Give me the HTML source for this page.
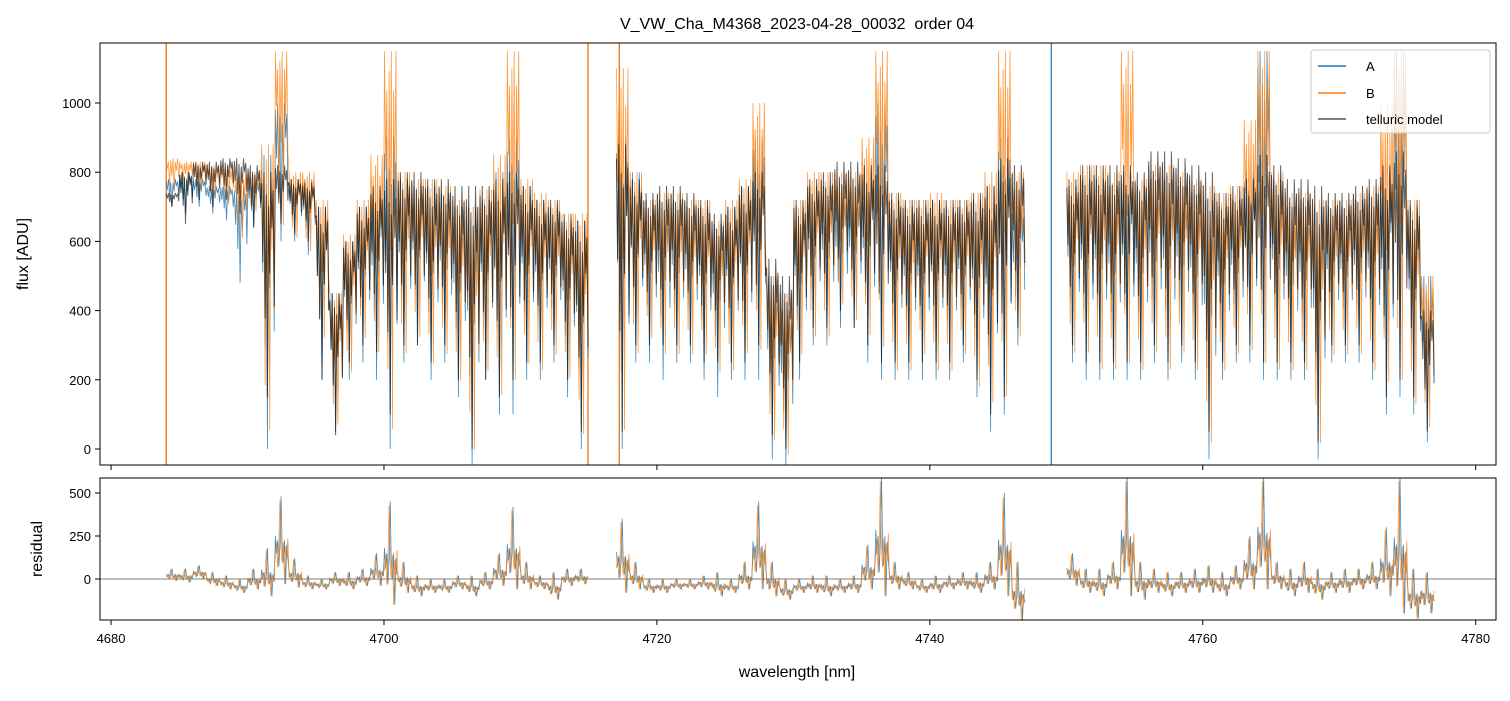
<!DOCTYPE html>
<html><head><meta charset="utf-8">
<style>
body{margin:0;background:#fff;}
svg{font-family:"Liberation Sans","DejaVu Sans",sans-serif;}
</style></head>
<body>
<svg id="chart" width="1510" height="696">
<text x="797" y="29" text-anchor="middle" font-size="16" style="white-space:pre">V_VW_Cha_M4368_2023-04-28_00032  order 04</text>
<defs>
<clipPath id="ctop"><rect x="100" y="43" width="1396" height="422"/></clipPath>
<clipPath id="cbot"><rect x="100" y="478" width="1396" height="142"/></clipPath>
</defs>
<g id="gtop" clip-path="url(#ctop)"></g>
<g id="gbot" clip-path="url(#cbot)"></g>
<g id="gaxes"></g>
<text x="797" y="677" text-anchor="middle" font-size="16">wavelength [nm]</text>
<text transform="translate(28,254) rotate(-90)" text-anchor="middle" font-size="16">flux [ADU]</text>
<text transform="translate(42,549) rotate(-90)" text-anchor="middle" font-size="16">residual</text>
<g>
<rect x="1311" y="50" width="179" height="83" fill="#fff" fill-opacity="0.8" stroke="#ccc" rx="3"/>
<line x1="1318" y1="66" x2="1346" y2="66" stroke="#1f77b4" stroke-width="1.5"/>
<text x="1366" y="71" font-size="13">A</text>
<line x1="1318" y1="93" x2="1346" y2="93" stroke="#ff7f0e" stroke-width="1.5"/>
<text x="1366" y="98" font-size="13">B</text>
<line x1="1318" y1="119" x2="1346" y2="119" stroke="#555" stroke-width="1.5"/>
<text x="1366" y="124" font-size="13">telluric model</text>
</g>
</svg>
<script>
const wStart = 4684;
const aHi=[780,800,780,760,760,760,780,850,1000,780,780,700,450,600,700,750,900,780,760,760,740,700,700,720,800,900,760,720,700,660,660,null,null,900,800,720,720,720,700,700,650,700,760,900,500,400,700,760,760,740,740,800,1000,720,700,700,720,700,700,720,760,900,700,null,null,null,760,780,780,760,800,760,780,780,760,740,720,700,720,800,1150,780,700,720,700,700,700,720,740,800,1150,700,500];
const aLo=[700,680,700,680,660,480,640,0,600,600,560,200,50,200,250,200,0,250,300,200,250,150,-50,200,100,100,200,200,250,150,0,null,null,0,250,250,200,250,250,200,150,200,200,200,-30,-50,200,300,300,350,350,250,200,200,200,200,200,200,250,150,50,100,300,null,null,null,250,200,200,200,200,200,250,200,250,200,-30,200,250,250,200,200,200,200,-30,250,250,250,200,100,150,100,20];
const bHi=[840,830,830,820,820,800,800,880,1150,800,800,720,450,620,720,850,1150,800,780,780,760,720,700,750,850,1150,780,740,720,680,680,null,null,1100,800,720,740,740,720,720,660,720,780,1000,500,450,720,800,800,800,800,900,1150,740,720,720,740,720,720,740,800,1150,800,null,null,null,800,820,820,800,1150,780,820,820,800,780,760,740,760,950,1150,800,740,740,720,720,720,740,760,1000,1150,720,500];
const bLo=[740,760,740,720,700,600,680,10,620,600,560,300,50,200,300,250,0,250,300,220,250,170,-40,200,120,150,220,200,250,180,10,null,null,0,250,300,250,250,250,250,200,200,250,250,0,-40,250,300,300,400,350,300,250,200,200,250,200,200,250,150,100,100,300,null,null,null,250,250,200,200,200,200,250,200,250,200,-20,200,250,250,200,200,200,200,-20,250,250,250,200,150,150,100,40];
const mHi=[740,800,830,830,840,840,820,800,820,780,770,700,450,600,700,760,780,800,800,780,780,760,760,760,780,800,760,720,720,680,660,null,null,880,780,740,760,760,740,720,680,700,760,800,550,500,720,780,800,830,830,820,820,740,720,720,720,720,720,740,760,840,820,null,null,null,780,820,820,820,820,800,860,860,840,820,800,740,760,780,850,820,780,780,760,740,740,760,780,820,860,720,400];
const mLo=[700,650,720,700,720,680,640,150,650,620,600,200,40,250,300,280,100,300,300,250,300,200,0,200,150,200,250,250,300,200,50,null,null,50,300,300,300,300,300,250,250,250,250,300,40,0,250,350,350,400,350,300,250,250,250,250,250,250,300,200,100,150,350,null,null,null,300,250,250,250,250,250,300,250,300,250,50,250,300,300,250,250,250,250,20,300,300,300,250,150,200,150,50];
const rHi=[60,60,80,40,20,0,60,180,480,120,20,0,40,40,60,150,450,100,20,0,0,20,20,40,150,420,100,20,40,60,60,null,null,350,100,0,0,0,0,20,40,0,100,450,100,0,0,20,20,0,20,200,600,100,40,0,20,20,40,40,100,500,100,null,null,null,150,60,60,100,600,100,60,40,40,60,80,40,80,250,600,100,60,100,60,40,60,60,100,300,600,60,40];
const rLo=[-10,-20,0,-40,-60,-80,-60,-100,-30,-50,-60,-60,-40,-60,-40,-40,-150,-80,-100,-80,-80,-60,-100,-60,-40,-60,-60,-60,-120,-40,-30,null,null,-80,-60,-80,-80,-60,-60,-60,-100,-80,-60,-60,-100,-120,-80,-80,-100,-80,-80,-60,-100,-60,-60,-80,-80,-60,-60,-80,-60,-100,-240,null,null,null,-40,-80,-100,-60,-100,-120,-80,-100,-80,-80,-80,-100,-60,-60,-60,-60,-100,-80,-120,-80,-80,-60,-60,-100,-200,-230,-200];
const spikesA=[4684.05,4714.95,4717.25,4748.9];
const spikesB=[4684.05,4714.95,4717.25];
const xTicks=[4680,4700,4720,4740,4760,4780];
const yTicksTop=[0,200,400,600,800,1000];
const yTicksBot=[0,250,500];

const X=w=>100+(w-4679.19)*(1396/102.3);
const YT=v=>449-v*0.346;
const YB=v=>579-v*0.172;
const NS="http://www.w3.org/2000/svg";
function mk(tag,attrs,parent){const e=document.createElementNS(NS,tag);for(const k in attrs)e.setAttribute(k,attrs[k]);parent.appendChild(e);return e;}
const gTop=document.getElementById('gtop'),gBot=document.getElementById('gbot'),gAxes=document.getElementById('gaxes');

// rendering shape within each bin (fraction between bin low and high)
const SHAPE_A=[0.95,0.6,1,0.35,0.9,0,0.85,0.55,1,0.75,0.92,0.4];
const SHAPE_B=[1,0.7,0.9,0.2,0.95,0.5,1,0.05,0.9,0.65,1,0.45];
const SHAPE_R=[0.55,0.35,0.5,0.2,0.45,1,0.4,0.25,0.5,0,0.45,0.3];
function trace(hi,lo,Y,shape){
  let d='',pen=false;const n=shape.length;
  for(let i=0;i<hi.length;i++){
    if(hi[i]===null){pen=false;continue;}
    for(let k=0;k<n;k++){
      const v=lo[i]+(hi[i]-lo[i])*shape[k];
      const x=X(wStart+i+k/n+0.04);
      d+=(pen?'L':'M')+x.toFixed(1)+' '+Y(v).toFixed(1);pen=true;
    }
  }
  return d;
}
function spikes(arr,color,parent,name){
  arr.forEach(w=>{
    const l=mk('line',{x1:X(w),x2:X(w),y1:YT(1200),y2:YT(-60),stroke:color,'stroke-width':1.2},parent);
    
    
  });
}
spikes(spikesA,'#1f77b4',gTop,'spike-a');
spikes(spikesB,'#ff7f0e',gTop,'spike-b');
let p=mk('path',{d:trace(aHi,aLo,YT,SHAPE_A),fill:'none',stroke:'#1f77b4','stroke-width':0.8,'stroke-opacity':0.85},gTop);


p=mk('path',{d:trace(bHi,bLo,YT,SHAPE_B),fill:'none',stroke:'#ff7f0e','stroke-width':0.8,'stroke-opacity':0.8},gTop);


p=mk('path',{d:trace(mHi,mLo,YT,SHAPE_A),fill:'none',stroke:'#000','stroke-width':1,'stroke-opacity':0.6},gTop);


p=mk('line',{x1:100,x2:1496,y1:YB(0),y2:YB(0),stroke:'#000','stroke-width':0.6},gBot);


p=mk('path',{d:trace(rHi,rLo,YB,SHAPE_R),fill:'none',stroke:'#1f77b4','stroke-width':0.8,'stroke-opacity':0.85},gBot);


p=mk('path',{d:trace(rHi.map(v=>v===null?null:v*0.95),rLo,YB,SHAPE_R.slice(1).concat(SHAPE_R[0])),fill:'none',stroke:'#ff7f0e','stroke-width':0.8,'stroke-opacity':0.8},gBot);



p=mk('rect',{x:100,y:43,width:1396,height:422,fill:'none',stroke:'#000','stroke-width':1},gAxes);


p=mk('rect',{x:100,y:478,width:1396,height:142,fill:'none',stroke:'#000','stroke-width':1},gAxes);


xTicks.forEach(t=>{
  const x=X(t);
  mk('line',{x1:x,x2:x,y1:465,y2:470,stroke:'#000'},gAxes);
  mk('line',{x1:x,x2:x,y1:620,y2:625,stroke:'#000'},gAxes);
  const tx=mk('text',{x:x,y:643,'text-anchor':'middle','font-size':13},gAxes);
  tx.textContent=t;
  
  
});
yTicksTop.forEach(t=>{
  const y=YT(t);
  mk('line',{x1:95,x2:100,y1:y,y2:y,stroke:'#000'},gAxes);
  const tx=mk('text',{x:91,y:y+5,'text-anchor':'end','font-size':13},gAxes);
  tx.textContent=t;
  
  
});
yTicksBot.forEach(t=>{
  const y=YB(t);
  mk('line',{x1:95,x2:100,y1:y,y2:y,stroke:'#000'},gAxes);
  const tx=mk('text',{x:91,y:y+5,'text-anchor':'end','font-size':13},gAxes);
  tx.textContent=t;
  
  
});
</script>
</body></html>
